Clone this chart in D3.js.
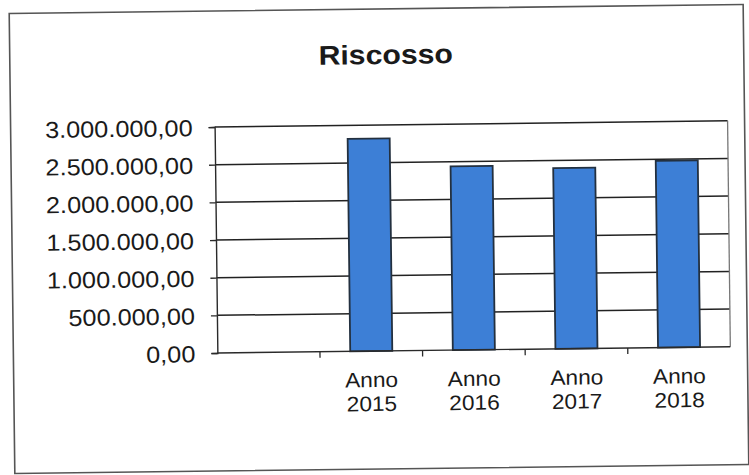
<!DOCTYPE html>
<html>
<head>
<meta charset="utf-8">
<script src="https://cdn.jsdelivr.net/npm/d3@7"></script>
<style>
  html, body { margin: 0; padding: 0; background: #fff; }
  svg { display: block; }
  text { font-family: "Liberation Sans", Arial, sans-serif; fill: #1a1a1a; }
</style>
</head>
<body>
<script>
// Categories (first slot is left empty on the axis) and collected amounts
const categories = ["", "Anno 2015", "Anno 2016", "Anno 2017", "Anno 2018"];
const values = [null, 2820000, 2440000, 2400000, 2480000];
const yTicks = [0, 500000, 1000000, 1500000, 2000000, 2500000, 3000000];
const title = "Riscosso";

const W = 749, H = 475;
const plot = { left: 216, right: 729, top: 125, bottom: 351 };

const svg = d3.select("body").append("svg")
  .attr("width", W).attr("height", H);

const root = svg.append("g")
  .attr("transform", "rotate(-0.7, 380, 240)");

// outer chart frame
root.append("rect")
  .attr("x", 12).attr("y", 9)
  .attr("width", 734).attr("height", 460)
  .attr("fill", "#fff")
  .attr("stroke", "#555").attr("stroke-width", 1.6);

root.append("text")
  .attr("x", 388).attr("y", 64)
  .attr("text-anchor", "middle")
  .attr("font-size", 27).attr("font-weight", "bold")
  .attr("transform", "translate(388,0) scale(1.12,1) translate(-388,0)")
  .text(title);

const x = d3.scaleBand()
  .domain(categories)
  .range([plot.left, plot.right])
  .paddingInner(0).paddingOuter(0);

const y = d3.scaleLinear()
  .domain([0, 3000000])
  .range([plot.bottom, plot.top]);

const fmt = d3.formatLocale({
  decimal: ",", thousands: ".", grouping: [3], currency: ["€", ""]
}).format(",.2f");

// horizontal gridlines
root.append("g")
  .selectAll("line")
  .data(yTicks.filter(d => d > 0))
  .join("line")
  .attr("x1", plot.left).attr("x2", plot.right)
  .attr("y1", d => y(d)).attr("y2", d => y(d))
  .attr("stroke", "#222").attr("stroke-width", 1.5);

// right edge of the plot area
root.append("line")
  .attr("x1", plot.right).attr("x2", plot.right)
  .attr("y1", plot.top).attr("y2", plot.bottom)
  .attr("stroke", "#777").attr("stroke-width", 1.3);

// bars
const barW = x.bandwidth() * 0.41;
root.append("g")
  .selectAll("rect")
  .data(categories.map((c, i) => ({ c, v: values[i] })).filter(d => d.v != null))
  .join("rect")
  .attr("x", d => x(d.c) + (x.bandwidth() - barW) / 2)
  .attr("y", d => y(d.v))
  .attr("width", barW)
  .attr("height", d => y(0) - y(d.v))
  .attr("fill", "#3d7fd6")
  .attr("stroke", "#23303f").attr("stroke-width", 1.8);

// y axis
const yAxis = root.append("g")
  .attr("transform", `translate(${plot.left},0)`)
  .call(d3.axisLeft(y).tickValues(yTicks).tickFormat(fmt).tickSize(6).tickPadding(14));
yAxis.select(".domain").attr("stroke", "#2a2a2a").attr("stroke-width", 1.4);
yAxis.selectAll(".tick line").attr("stroke", "#2a2a2a").attr("stroke-width", 1.3);
yAxis.selectAll(".tick text")
  .attr("font-size", 23)
  .attr("fill", "#1a1a1a")
  .attr("font-family", "Liberation Sans, Arial, sans-serif")
  .attr("dy", "0.36em")
  .attr("transform", "scale(1.1,1)");

// x axis with ticks at category boundaries
const xAxis = root.append("g")
  .attr("transform", `translate(0,${plot.bottom})`);
xAxis.append("line")
  .attr("x1", plot.left).attr("x2", plot.right)
  .attr("stroke", "#2a2a2a").attr("stroke-width", 1.4);
xAxis.selectAll("line.tk")
  .data(categories.slice(1))
  .join("line")
  .attr("class", "tk")
  .attr("x1", d => x(d)).attr("x2", d => x(d))
  .attr("y1", 0).attr("y2", 6)
  .attr("stroke", "#2a2a2a").attr("stroke-width", 1.3);

const lbl = xAxis.selectAll("text.lbl")
  .data(categories.filter(c => c))
  .join("text")
  .attr("class", "lbl")
  .attr("text-anchor", "middle")
  .attr("font-size", 21)
  .attr("transform", d => `translate(${x(d) + x.bandwidth() / 2},0) scale(1.08,1)`);
lbl.each(function (d) {
  const parts = d.split(" ");
  d3.select(this).selectAll("tspan")
    .data(parts)
    .join("tspan")
    .attr("x", 0)
    .attr("y", (p, i) => 36 + i * 24)
    .text(p => p);
});
</script>
</body>
</html>
